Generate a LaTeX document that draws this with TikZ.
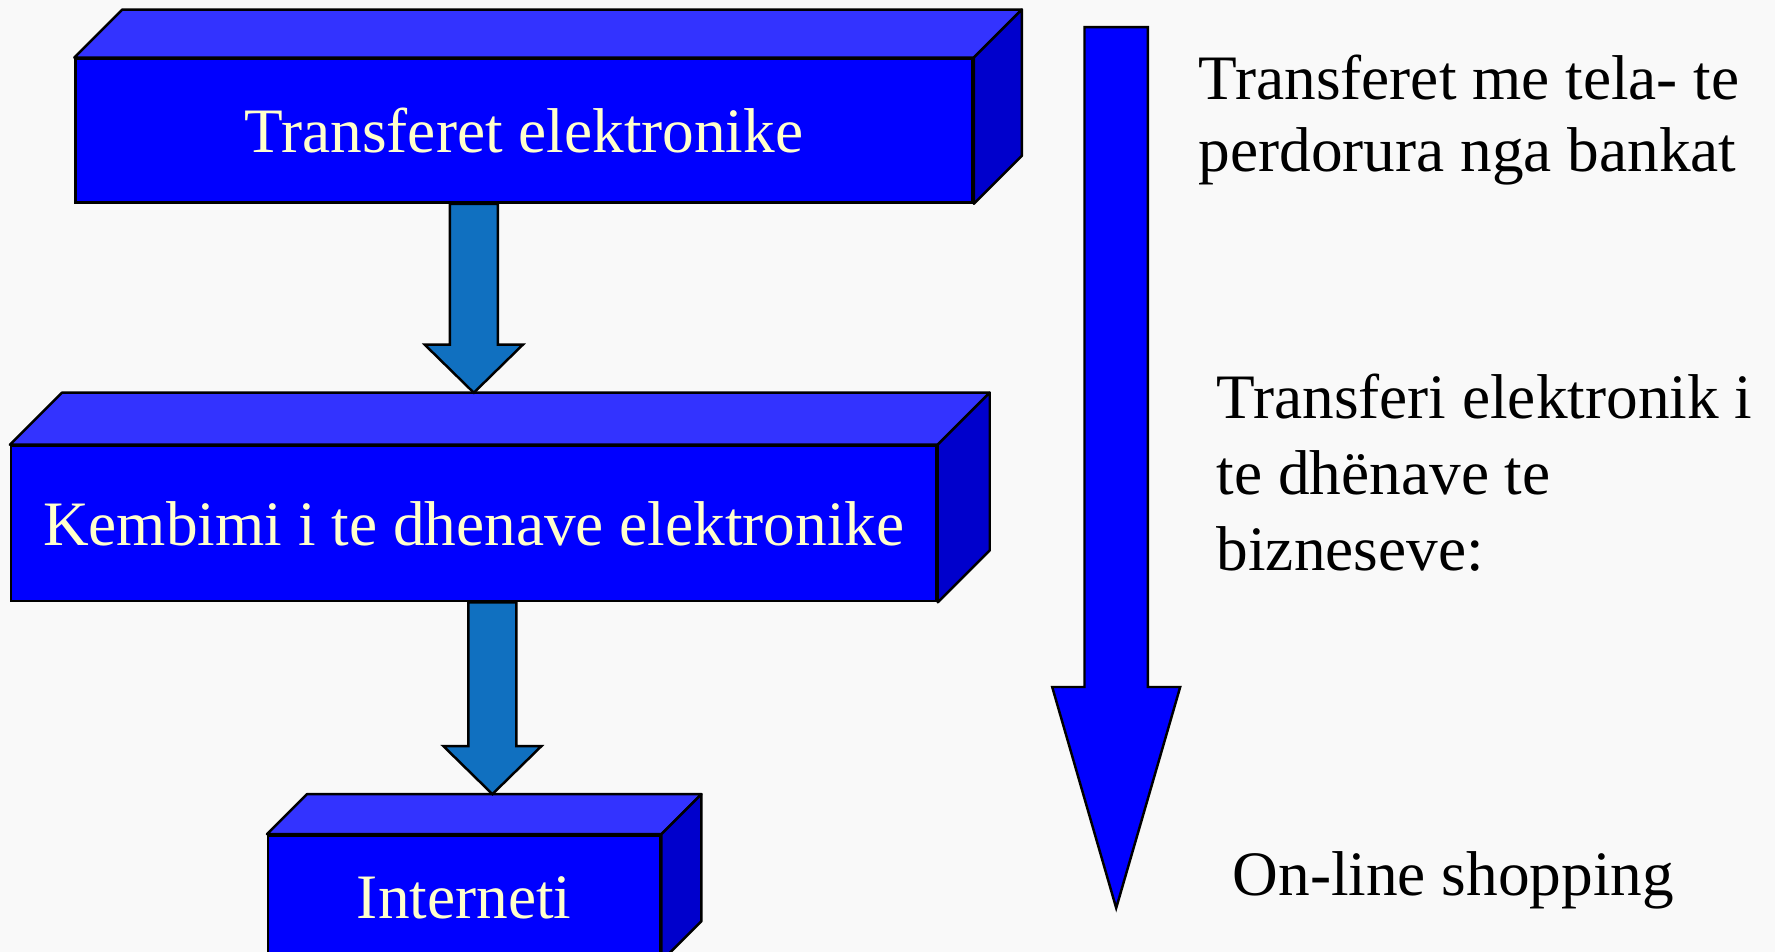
\documentclass[tikz,border=0pt]{standalone}
\usepackage{fontspec}
\setmainfont{Liberation Serif}
\usetikzlibrary{calc}
\definecolor{paper}{RGB}{249,249,249}
\definecolor{boxfront}{RGB}{0,0,255}
\definecolor{boxtop}{RGB}{51,51,255}
\definecolor{boxside}{RGB}{0,0,204}
\definecolor{boxtext}{RGB}{255,255,204}
\definecolor{linkblue}{RGB}{16,112,192}
\tikzset{stage/.style = {draw, fill=boxfront, line width=0.7pt, inner sep=0,
                         text=boxtext, font=\fontsize{18}{22}\selectfont}}
\tikzset{topface/.style = {draw, fill=boxtop, line width=0.7pt, line join=round}}
\tikzset{sideface/.style = {draw, fill=boxside, line width=0.7pt, line join=round}}
\tikzset{link/.style = {draw, fill=linkblue, line width=0.7pt}}
\tikzset{bigflow/.style = {draw, fill=boxfront, line width=0.7pt}}
\tikzset{note/.style = {anchor=base west, align=left, inner sep=0,
                        font=\fontsize{18}{20.5}\selectfont}}

\begin{document}
\begin{tikzpicture}[x=0.01cm, y=-0.01cm]
    \fill[paper] (0,0) rectangle (1775,952);
    \useasboundingbox (0,0) rectangle (1775,952);
    \clip (0,0) rectangle (1775,952);

    \node[stage, minimum width=8.966cm, minimum height=1.437cm] (trans) at (524.1,130.7) {Transferet elektronike};
    \node[stage, minimum width=9.249cm, minimum height=1.55cm] (kemb) at (473.8,523.5) {Kembimi i te dhenave elektronike};
    \node[stage, minimum width=3.917cm, minimum height=1.246cm] (inet) at (464.2,897.7) {Interneti};

    \foreach \n/\d in {trans/48, kemb/52, inet/40} {
      \draw[topface] (\n.north west) -- ++(\d,-\d) -- ($(\n.north east)+(\d,-\d)$) -- (\n.north east) -- cycle;
      \draw[sideface] (\n.north east) -- ++(\d,-\d) -- ($(\n.south east)+(\d,-\d)$) -- (\n.south east) -- cycle;
    }

    \coordinate (a1s) at (trans.south -| kemb.center);
    \coordinate (a1e) at ($(kemb.north)+(0,-52)$);
    \coordinate (a2s) at ($(kemb.south)+(18.6,0)$);
    \coordinate (a2e) at ($(inet.north)+(28.2,-40)$);
    \foreach \s/\e in {a1s/a1e, a2s/a2e}
      \draw[link] ($(\s)+(-24,0)$) -- ($(\e)+(-24,-48)$) -- ($(\e)+(-49,-48)$) -- (\e)
                  -- ($(\e)+(49,-48)$) -- ($(\e)+(24,-48)$) -- ($(\s)+(24,0)$) -- cycle;

    \coordinate (flowtop) at (1116.2,27.2);
    \coordinate (flowtip) at (1116.2,908);
    \draw[bigflow] ($(flowtop)+(-31.7,0)$) -- ($(flowtop)+(31.7,0)$) -- ($(flowtip)+(31.7,-221)$)
                   -- ($(flowtip)+(64,-221)$) -- (flowtip) -- ($(flowtip)+(-64,-221)$)
                   -- ($(flowtip)+(-31.7,-221)$) -- cycle;

    \node[note] (wire) at (1198,172) {Transferet me tela- te\\perdorura nga bankat};
    \node[note, font=\fontsize{18}{21.6}\selectfont] (edi) at (1216,570.7) {Transferi elektronik i\\te dhënave te\\bizneseve:};
    \node[note] (shop) at (1232,895.5) {On-line shopping};
\end{tikzpicture}
\end{document}
